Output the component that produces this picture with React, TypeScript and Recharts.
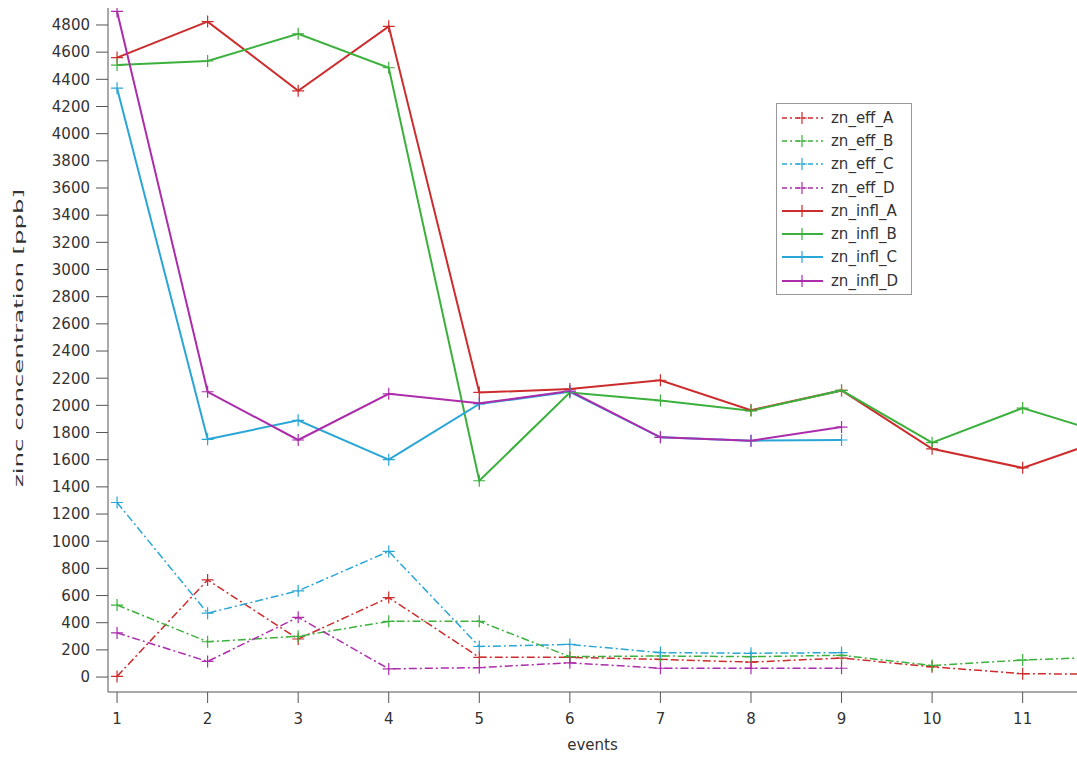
import React from 'react';
import { LineChart, Line, XAxis, YAxis, Legend, Label } from 'recharts';

// event numbers (x) and values, in ppb
const events = [1, 2, 3, 4, 5, 6, 7, 8, 9, 10, 11, 12];
const znEffA = [5, 715, 280, 585, 145, 145, 130, 110, 140, 75, 25, 20];
const znEffB = [530, 260, 300, 410, 410, 150, 155, 150, 160, 85, 125, 150];
const znEffC = [1285, 470, 635, 925, 225, 240, 180, 175, 180, null, null, null];
const znEffD = [325, 115, 440, 60, 70, 105, 65, 65, 65, null, null, null];
const znInflA = [4560, 4825, 4315, 4790, 2095, 2120, 2185, 1965, 2110, 1680, 1540, 1770];
const znInflB = [4505, 4535, 4735, 4485, 1445, 2095, 2035, 1960, 2110, 1725, 1980, 1775];
const znInflC = [4335, 1750, 1890, 1600, 2010, 2100, 1765, 1740, 1745, null, null, null];
const znInflD = [4900, 2100, 1745, 2085, 2015, 2105, 1765, 1740, 1840, null, null, null];

const xTicks = [1, 2, 3, 4, 5, 6, 7, 8, 9, 10, 11];
const yTicks = [0, 200, 400, 600, 800, 1000, 1200, 1400, 1600, 1800, 2000, 2200, 2400, 2600,
  2800, 3000, 3200, 3400, 3600, 3800, 4000, 4200, 4400, 4600, 4800];

const data = events.map((event, i) => ({
  event,
  zn_eff_A: znEffA[i],
  zn_eff_B: znEffB[i],
  zn_eff_C: znEffC[i],
  zn_eff_D: znEffD[i],
  zn_infl_A: znInflA[i],
  zn_infl_B: znInflB[i],
  zn_infl_C: znInflC[i],
  zn_infl_D: znInflD[i],
}));

const RED = '#cc2c2c';
const GREEN = '#3cb03c';
const CYAN = '#2aa6d6';
const MAGENTA = '#ac2cac';
const DASH = '8 3 2 3';

const series = [
  { key: 'zn_eff_A', color: RED, dashed: true },
  { key: 'zn_eff_B', color: GREEN, dashed: true },
  { key: 'zn_eff_C', color: CYAN, dashed: true },
  { key: 'zn_eff_D', color: MAGENTA, dashed: true },
  { key: 'zn_infl_A', color: RED, dashed: false },
  { key: 'zn_infl_B', color: GREEN, dashed: false },
  { key: 'zn_infl_C', color: CYAN, dashed: false },
  { key: 'zn_infl_D', color: MAGENTA, dashed: false },
];

const FONT = '"DejaVu Sans", Arial, sans-serif';
const AXIS = '#555';
const TEXT = '#333';

// "+" marker at each data point
const PlusDot = (props: any) => {
  const { cx, cy, stroke } = props;
  if (cx == null || cy == null || isNaN(cy)) return null;
  return (
    <path
      d={`M${cx - 6},${cy}H${cx + 6}M${cx},${cy - 6}V${cy + 6}`}
      stroke={stroke}
      strokeWidth={1.2}
      fill="none"
    />
  );
};

const LegendBox = () => (
  <div
    style={{
      width: 136,
      boxSizing: 'border-box',
      border: '1px solid #999',
      background: '#fff',
      padding: '2px 4px',
      fontFamily: FONT,
      fontSize: 15,
      color: TEXT,
    }}
  >
    {series.map((s) => (
      <div key={s.key} style={{ display: 'flex', alignItems: 'center', height: 23.3 }}>
        <svg width={44} height={14} style={{ marginRight: 6 }}>
          <line
            x1={1}
            y1={7}
            x2={42}
            y2={7}
            stroke={s.color}
            strokeWidth={s.dashed ? 1.5 : 2}
            strokeDasharray={s.dashed ? '5 3 2 3' : undefined}
          />
          <path d="M21,1V13M16,7H26" stroke={s.color} strokeWidth={1.2} />
        </svg>
        <span>{s.key}</span>
      </div>
    ))}
  </div>
);

const YTitle = () => {
  const cx = 18;
  const cy = 338;
  return (
    <text
      x={cx}
      y={cy}
      transform={`rotate(-90, ${cx}, ${cy})`}
      textAnchor="middle"
      dominantBaseline="central"
      fontFamily={FONT}
      fontSize={13}
      textLength={298}
      lengthAdjust="spacingAndGlyphs"
      fill={TEXT}
    >
      zinc concentration [ppb]
    </text>
  );
};

const XTitle = (props: any) => {
  const vb = props.viewBox || {};
  const cx = (vb.x || 0) + (vb.width || 0) / 2;
  return (
    <text
      x={cx}
      y={745}
      textAnchor="middle"
      dominantBaseline="central"
      fontFamily={FONT}
      fontSize={15}
      fill={TEXT}
    >
      events
    </text>
  );
};

export default function App() {
  return (
    <div style={{ position: 'absolute', left: 0, top: 0, width: 1077, height: 757, background: '#fff' }}>
      <LineChart width={1077} height={757} data={data} margin={{ top: 8, right: 0, left: 0, bottom: 0 }}>
        <XAxis
          dataKey="event"
          type="number"
          domain={[0.9, 11.6]}
          ticks={xTicks}
          allowDataOverflow
          height={65}
          tickSize={11}
          tickMargin={10}
          interval={0}
          stroke={AXIS}
          tick={{ fontSize: 15, fill: TEXT, fontFamily: FONT }}
        >
          <Label content={XTitle} />
        </XAxis>
        <YAxis
          type="number"
          domain={[-110, 4925]}
          ticks={yTicks}
          allowDataOverflow
          width={108}
          tickSize={12}
          tickMargin={6}
          interval={0}
          stroke={AXIS}
          tick={{ fontSize: 15, fill: TEXT, fontFamily: FONT }}
        >
          <Label content={YTitle} />
        </YAxis>
        <Legend
          layout="vertical"
          align="center"
          verticalAlign="middle"
          content={() => <LegendBox />}
          wrapperStyle={{ left: 776, top: 103, width: 'auto' }}
        />
        {series.map((s) => (
          <Line
            key={s.key}
            dataKey={s.key}
            stroke={s.color}
            strokeWidth={s.dashed ? 1.5 : 2}
            strokeDasharray={s.dashed ? DASH : undefined}
            dot={<PlusDot />}
            activeDot={false}
            connectNulls={false}
            isAnimationActive={false}
          />
        ))}
      </LineChart>
    </div>
  );
}
